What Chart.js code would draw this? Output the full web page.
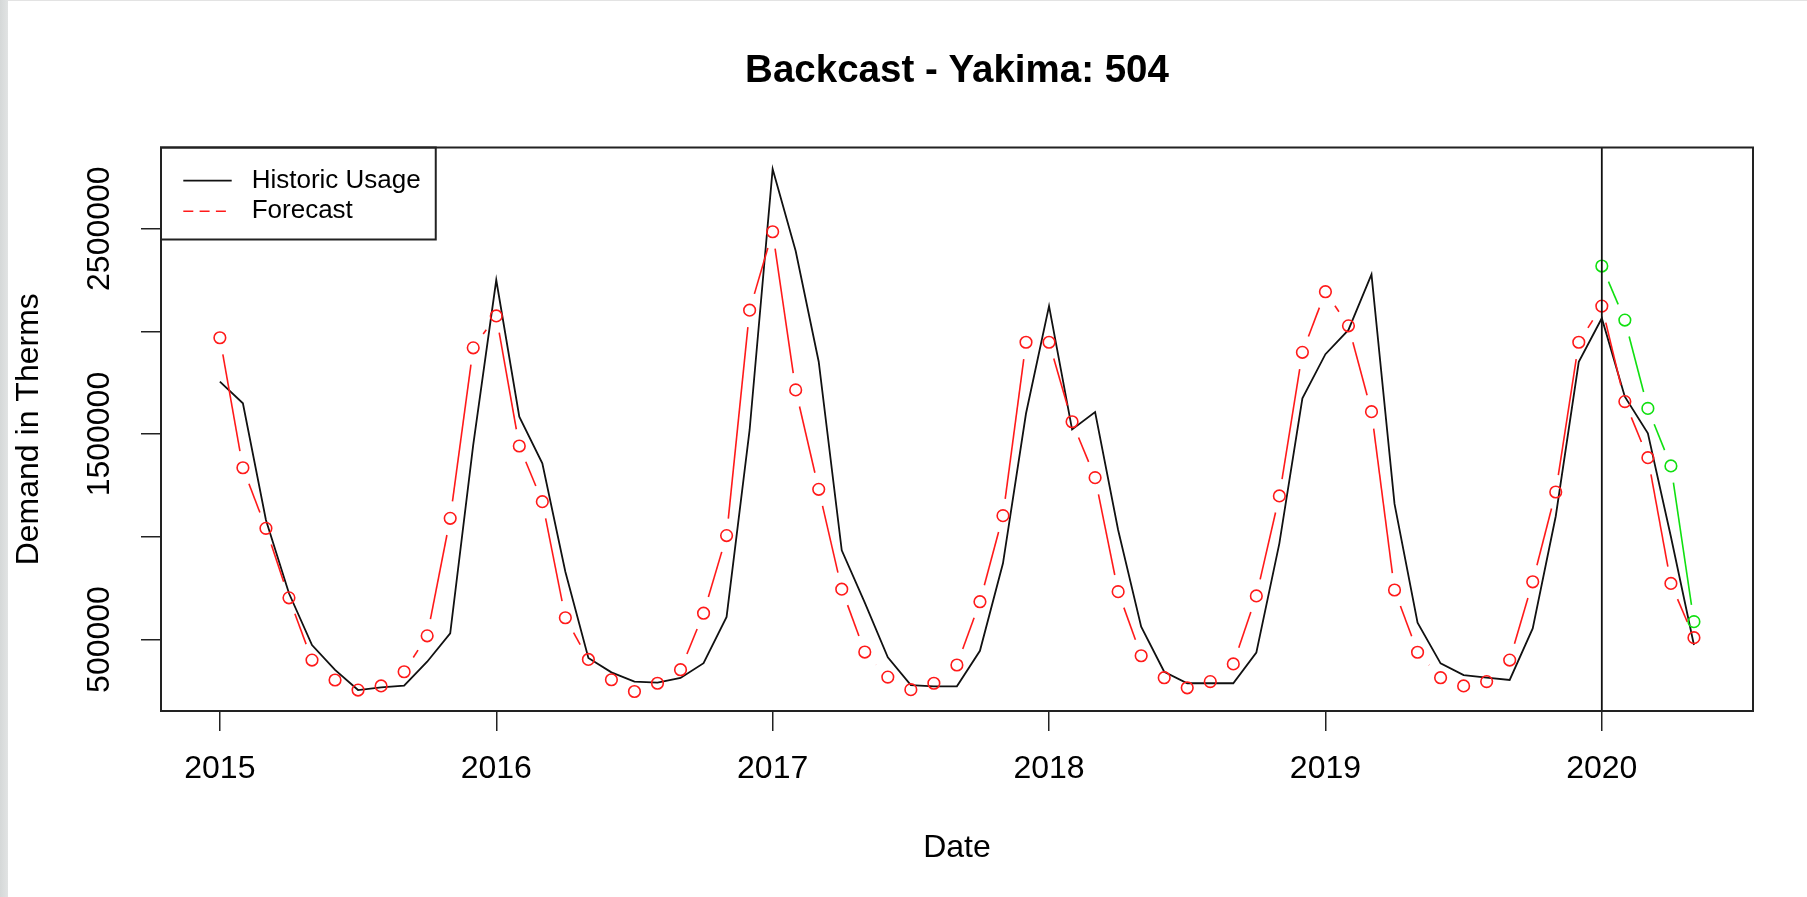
<!DOCTYPE html>
<html>
<head>
<meta charset="utf-8">
<title>Backcast - Yakima: 504</title>
<script src="https://cdn.jsdelivr.net/npm/chart.js@4.4.1/dist/chart.umd.min.js"></script>
<style>
  html, body { margin: 0; padding: 0; background: #fff; }
  body { width: 1807px; height: 897px; position: relative; overflow: hidden; }
  .frame-left { position: absolute; left: 0; top: 0; width: 8px; height: 897px;
                background: linear-gradient(to right, #d5d8d8, #e1e3e3); }
  .frame-top { position: absolute; left: 8px; top: 0; right: 0; height: 1px; background: #e3e3e3; }
  #wrap { position: absolute; left: 0; top: 0; width: 1807px; height: 897px; }
  #chart { display: block; width: 1807px; height: 897px; }
</style>
</head>
<body>
<div class="frame-left"></div>
<div class="frame-top"></div>
<div id="wrap"><canvas id="chart" width="1807" height="897"></canvas></div>
<script>
// Monthly gas demand for Yakima (504), in therms, starting January 2015.
const startYear = 2015;

const historicUsage = [
  1755000, 1650000, 1082000, 725000, 473000, 352000, 254000, 267000, 275000, 392000, 530000, 1447000,
  2250000, 1585000, 1358000, 830000, 410000, 340000, 295000, 290000, 313000, 385000, 610000, 1520000,
  2790000, 2391000, 1852000, 934000, 680000, 413000, 278000, 272000, 272000, 445000, 871000, 1600000,
  2123000, 1523000, 1607000, 1033000, 562000, 343000, 287000, 287000, 287000, 436000, 968000, 1674000,
  1889000, 2007000, 2277000, 1160000, 582000, 384000, 327000, 314000, 303000, 554000, 1100000, 1852000,
  2064000, 1682000, 1504000, 1000000, 473000
];

const forecast = [
  1969000, 1336000, 1041000, 703000, 400000, 303000, 254000, 274000, 343000, 518000, 1090000, 1920000,
  2075000, 1442000, 1171000, 606000, 403000, 304000, 247000, 287000, 353000, 628000, 1006000, 2103000,
  2485000, 1715000, 1231000, 745000, 439000, 317000, 256000, 287000, 376000, 684000, 1103000, 1947000,
  1947000, 1560000, 1288000, 733000, 421000, 314000, 265000, 295000, 381000, 712000, 1199000, 1898000,
  2193000, 2027000, 1609000, 741000, 438000, 314000, 274000, 295000, 400000, 781000, 1218000, 1947000,
  2123000, 1658000, 1385000, 773000, 509000
];

// 2020 backcast, January to May
const backcast2020 = [2318000, 2055000, 1625000, 1345000, 587000];
const backcastStartMonth = 60;

const cutoffYear = 2020;

const xTickValues = [2015, 2016, 2017, 2018, 2019, 2020];
const xTickLabels = ['2015', '2016', '2017', '2018', '2019', '2020'];
const yTickValues = [500000, 1000000, 1500000, 2000000, 2500000];
const yTickLabels = ['500000', '', '1500000', '', '2500000'];

const xRange = [2014.787, 2020.547];
const yRange = [152000, 2895000];

// ---------------------------------------------------------------------------
const FONT = "'Liberation Sans', Arial, Helvetica, sans-serif";
const toSeries = (values, offset) => values.map((v, i) => ({ x: startYear + (offset + i) / 12, y: v }));

// Type "b" style: each segment between markers is drawn on its own,
// leaving a gap around both markers.
const MARKER_GAP = 17;
function gappedDash(ctx) {
  const len = Math.hypot(ctx.p1.x - ctx.p0.x, ctx.p1.y - ctx.p0.y);
  const tag = ctx.p0DataIndex * 1e-4;
  const on = len - 2 * MARKER_GAP;
  if (on <= 0) return [0, len + 1 + tag];
  return [0, MARKER_GAP, on, MARKER_GAP + 1 + tag];
}

const LEGEND = { offsetX: 17.7, offsetY: 15.6, padding: 4.6, fontSize: 26, sampleWidth: 55.4 };
const LEGEND_DASH = [[48.4, 100], [10, 6.3, 10, 6.3, 10, 100]];

const plotFrame = {
  id: 'plotFrame',
  beforeDraw(chart) {
    const lg = chart.legend, ca = chart.chartArea;
    lg.left = ca.left + LEGEND.offsetX;
    lg.top = ca.top + LEGEND.offsetY;
    lg.width = 420; lg.height = 200;
    lg.right = lg.left + lg.width;
    lg.bottom = lg.top + lg.height;
  },
  afterDraw(chart) {
    const { ctx, chartArea: ca } = chart;
    const lg = chart.legend;
    ctx.save();
    ctx.strokeStyle = '#222';
    ctx.lineWidth = 2;
    ctx.setLineDash([]);
    ctx.strokeRect(ca.left, ca.top, ca.right - ca.left, ca.bottom - ca.top);

    // border around the legend, anchored at the top-left corner of the plot
    ctx.font = LEGEND.fontSize + 'px ' + FONT;
    const items = lg.legendItems || [];
    let maxW = 0;
    items.forEach(it => { maxW = Math.max(maxW, ctx.measureText(it.text).width); });
    const textX = lg.left + LEGEND.padding + LEGEND.sampleWidth + LEGEND.fontSize / 2;
    const lastMid = lg.top + LEGEND.padding + (items.length - 1) * (LEGEND.fontSize + LEGEND.padding) + LEGEND.fontSize / 2;
    const right = textX + maxW + 15;
    const bottom = lastMid + 28.2;
    ctx.lineWidth = 2;
    ctx.strokeRect(ca.left, ca.top, right - ca.left, bottom - ca.top);
    ctx.restore();
  }
};

const ctx = document.getElementById('chart');
new Chart(ctx, {
  type: 'line',
  data: {
    datasets: [
      {
        label: 'Historic Usage',
        data: toSeries(historicUsage, 0),
        borderColor: '#111',
        borderWidth: 1.8,
        pointRadius: 0,
        pointBorderColor: '#111',
        pointBorderWidth: 1.8,
        tension: 0,
        order: 3
      },
      {
        label: 'Forecast',
        data: toSeries(forecast, 0),
        borderColor: '#ff1a1a',
        borderWidth: 1.6,
        pointRadius: 5.8,
        pointBorderWidth: 1.6,
        pointBorderColor: '#ff1a1a',
        pointBackgroundColor: 'rgba(0,0,0,0)',
        pointStyle: 'circle',
        segment: { borderDash: gappedDash },
        tension: 0,
        order: 2
      },
      {
        label: 'Backcast',
        data: toSeries(backcast2020, backcastStartMonth),
        borderColor: '#10e010',
        borderWidth: 1.6,
        pointRadius: 5.8,
        pointBorderWidth: 1.6,
        pointBorderColor: '#10e010',
        pointBackgroundColor: 'rgba(0,0,0,0)',
        pointStyle: 'circle',
        segment: { borderDash: gappedDash },
        tension: 0,
        order: 1
      },
      {
        label: 'Cutoff',
        data: [{ x: cutoffYear, y: yRange[0] }, { x: cutoffYear, y: yRange[1] }],
        borderColor: '#111',
        borderWidth: 1.8,
        pointRadius: 0,
        order: 0
      }
    ]
  },
  options: {
    responsive: false,
    maintainAspectRatio: false,
    devicePixelRatio: 1,
    animation: false,
    events: [],
    layout: { padding: { left: 0, right: 54, top: 0, bottom: 0 } },
    scales: {
      x: {
        type: 'linear',
        min: xRange[0],
        max: xRange[1],
        afterBuildTicks: s => { s.ticks = xTickValues.map(v => ({ value: v })); },
        afterFit: s => { s.height = 186; },
        ticks: {
          autoSkip: false,
          maxRotation: 0,
          padding: 18.7,
          color: '#000',
          font: { family: FONT, size: 32 },
          callback: v => { const i = xTickValues.indexOf(v); return i >= 0 ? xTickLabels[i] : ''; }
        },
        grid: { drawOnChartArea: false, drawTicks: true, tickLength: 20, color: '#222', lineWidth: 1.5 },
        border: { display: false },
        title: {
          display: true, text: 'Date', color: '#000',
          font: { family: FONT, size: 32 },
          padding: { top: 0, bottom: 29.8 }
        }
      },
      y: {
        type: 'linear',
        min: yRange[0],
        max: yRange[1],
        afterBuildTicks: s => { s.ticks = yTickValues.map(v => ({ value: v })); },
        afterFit: s => { s.width = 161; },
        ticks: {
          autoSkip: false,
          minRotation: 90,
          maxRotation: 90,
          crossAlign: 'center',
          padding: -21.3,
          color: '#000',
          font: { family: FONT, size: 32 },
          callback: v => { const i = yTickValues.indexOf(v); return i >= 0 ? yTickLabels[i] : ''; }
        },
        grid: { drawOnChartArea: false, drawTicks: true, tickLength: 20, color: '#222', lineWidth: 1.5 },
        border: { display: false },
        title: {
          display: true, text: 'Demand in Therms', color: '#000',
          font: { family: FONT, size: 32 },
          padding: { top: 9.7, bottom: 0 }
        }
      }
    },
    plugins: {
      title: {
        display: true,
        fullSize: false,
        text: 'Backcast - Yakima: 504',
        color: '#000',
        font: { family: FONT, size: 38.5, weight: 'bold' },
        padding: { top: 48.7, bottom: 52.6 }
      },
      legend: {
        display: true,
        position: 'chartArea',
        align: 'start',
        labels: {
          color: '#000',
          font: { family: FONT, size: LEGEND.fontSize },
          usePointStyle: true,
          pointStyle: 'line',
          pointStyleWidth: LEGEND.sampleWidth,
          padding: LEGEND.padding,
          filter: item => item.datasetIndex < 2,
          generateLabels: chart => {
            const base = Chart.defaults.plugins.legend.labels.generateLabels(chart);
            const ds = chart.data.datasets;
            return base
              .map(it => Object.assign({}, it, {
                pointStyle: 'line',
                lineDash: LEGEND_DASH[it.datasetIndex] || [],
                lineWidth: ds[it.datasetIndex].borderWidth,
                strokeStyle: ds[it.datasetIndex].borderColor,
                lineCap: 'butt'
              }))
              .sort((a, b) => a.datasetIndex - b.datasetIndex);
          }
        }
      },
      tooltip: { enabled: false }
    }
  },
  plugins: [plotFrame]
});
</script>
</body>
</html>
